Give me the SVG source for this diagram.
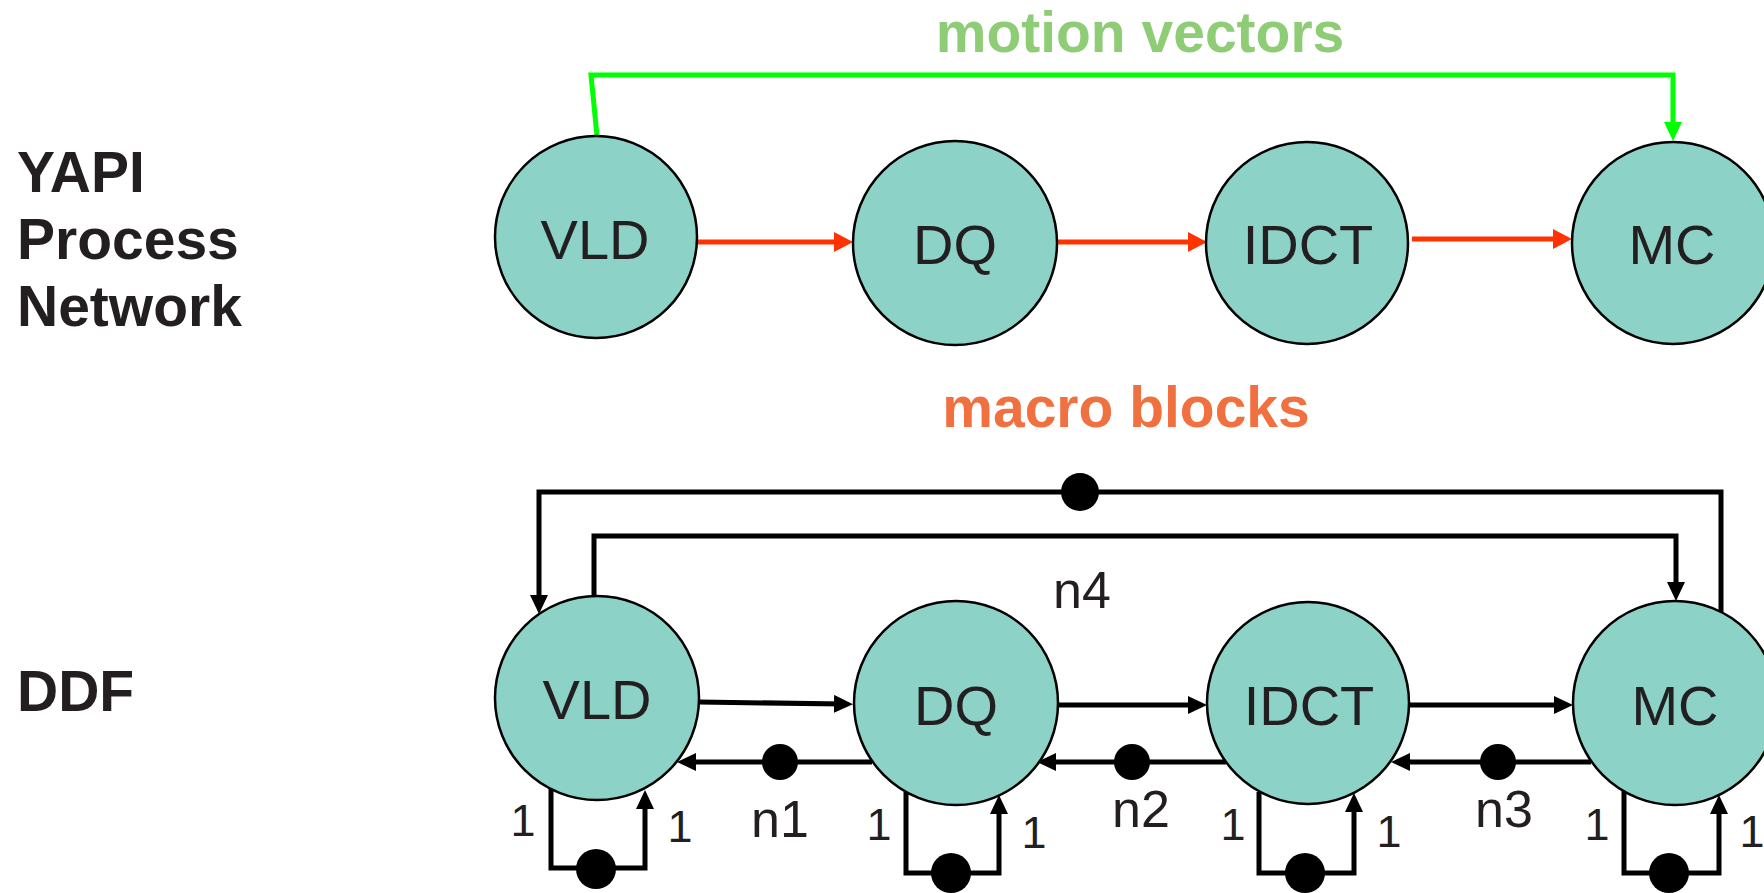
<svg xmlns="http://www.w3.org/2000/svg" width="1764" height="893" viewBox="0 0 1764 893">
  <style>
    .node { fill: #8dd2c6; stroke: #000; stroke-width: 2.5; }
    .nlabel { font-family: "Liberation Sans", Arial, sans-serif; font-size: 56px; fill: #231f20; text-anchor: middle; }
    .title { font-family: "Liberation Sans", Arial, sans-serif; font-size: 57px; font-weight: bold; fill: #231f20; }
    .edge { fill: none; stroke: #000; stroke-width: 5; stroke-linejoin: miter; }
    .red { fill: none; stroke: #ff3300; stroke-width: 5; }
    .green { fill: none; stroke: #00ff00; stroke-width: 5; stroke-linejoin: miter; }
    .token { fill: #000; }
    .rate { font-family: "Liberation Sans", Arial, sans-serif; font-size: 45px; fill: #231f20; text-anchor: middle; }
    .chan { font-family: "Liberation Sans", Arial, sans-serif; font-size: 52px; fill: #231f20; text-anchor: middle; }
  </style>
  <defs>
    <marker id="ah-black" markerUnits="userSpaceOnUse" markerWidth="19" markerHeight="18" refX="9" refY="9" orient="auto">
      <path d="M0,0 L19,9 L0,18 z" fill="#000"/>
    </marker>
    <marker id="ah-red" markerUnits="userSpaceOnUse" markerWidth="19" markerHeight="20" refX="9" refY="10" orient="auto">
      <path d="M0,0 L19,10 L0,20 z" fill="#ff3300"/>
    </marker>
    <marker id="ah-green" markerUnits="userSpaceOnUse" markerWidth="19" markerHeight="18" refX="9" refY="9" orient="auto">
      <path d="M0,0 L19,9 L0,18 z" fill="#00ff00"/>
    </marker>
  </defs>

  <rect width="1764" height="893" fill="#fff"/>

  <!-- row titles -->
  <g id="titles">
    <text class="title" x="17" y="192">YAPI</text>
    <text class="title" x="17" y="259">Process</text>
    <text class="title" x="17" y="326">Network</text>
    <text class="title" x="17" y="711">DDF</text>
  </g>

  <!-- channel captions -->
  <text id="motion-vectors" x="1140" y="52" font-family="Liberation Sans, Arial, sans-serif" font-size="57" font-weight="bold" fill="#8fcc76" text-anchor="middle">motion vectors</text>
  <text id="macro-blocks" x="1126" y="427" font-family="Liberation Sans, Arial, sans-serif" font-size="57" font-weight="bold" fill="#f0703f" text-anchor="middle">macro blocks</text>

  <!-- connectors -->
  <g id="connectors">
    <!-- process network -->
    <path class="green" d="M597,136 L591,75 L1673,75 L1673,131" marker-end="url(#ah-green)"/>
    <path class="red" d="M694,242 L843,242" marker-end="url(#ah-red)"/>
    <path class="red" d="M1056,242 L1197,242" marker-end="url(#ah-red)"/>
    <path class="red" d="M1412,239 L1562,239" marker-end="url(#ah-red)"/>

    <!-- dataflow: feedback loops over the top -->
    <path class="edge" d="M1721,613 L1721,492 L539,492 L539,604" marker-end="url(#ah-black)"/>
    <circle class="token" cx="1080" cy="492" r="19"/>
    <path class="edge" d="M594,596 L594,536 L1676,536 L1676,591" marker-end="url(#ah-black)"/>

    <!-- dataflow: forward channels -->
    <path class="edge" d="M699,702 L843,704" marker-end="url(#ah-black)"/>
    <path class="edge" d="M1058,705 L1197,705" marker-end="url(#ah-black)"/>
    <path class="edge" d="M1409,705 L1563,705" marker-end="url(#ah-black)"/>

    <!-- dataflow: backward channels with tokens -->
    <path class="edge" d="M872,762 L687,762" marker-end="url(#ah-black)"/>
    <circle class="token" cx="780" cy="762" r="18"/>
    <path class="edge" d="M1226,762 L1047,762" marker-end="url(#ah-black)"/>
    <circle class="token" cx="1132" cy="762" r="18"/>
    <path class="edge" d="M1591,762 L1401,762" marker-end="url(#ah-black)"/>
    <circle class="token" cx="1498" cy="762" r="18"/>

    <!-- dataflow: self loops -->
    <path class="edge" d="M551,789 L551,868 L645,868 L645,800" marker-end="url(#ah-black)"/>
    <circle class="token" cx="596" cy="869" r="20"/>
    <path class="edge" d="M906,792 L906,873 L999,873 L999,805" marker-end="url(#ah-black)"/>
    <circle class="token" cx="951" cy="873" r="20"/>
    <path class="edge" d="M1259,792 L1259,873 L1354,873 L1354,803" marker-end="url(#ah-black)"/>
    <circle class="token" cx="1305" cy="873" r="20"/>
    <path class="edge" d="M1624,791 L1624,873 L1719,873 L1719,805" marker-end="url(#ah-black)"/>
    <circle class="token" cx="1669" cy="873" r="20"/>

    <!-- rates and channel names -->
    <text class="rate" x="523" y="836">1</text>
    <text class="rate" x="680" y="842">1</text>
    <text class="rate" x="879" y="840">1</text>
    <text class="rate" x="1034" y="848">1</text>
    <text class="rate" x="1233" y="840">1</text>
    <text class="rate" x="1389" y="847">1</text>
    <text class="rate" x="1597" y="840">1</text>
    <text class="rate" x="1752" y="847">1</text>
    <text class="chan" x="780" y="837">n1</text>
    <text class="chan" x="1141" y="827">n2</text>
    <text class="chan" x="1504" y="827">n3</text>
    <text class="chan" x="1082" y="608">n4</text>
  </g>

  <!-- process network nodes -->
  <g id="pn-vld"><circle class="node" cx="596" cy="237" r="101"/><text class="nlabel" x="595" y="259">VLD</text></g>
  <g id="pn-dq"><circle class="node" cx="955" cy="243" r="102"/><text class="nlabel" x="955" y="264">DQ</text></g>
  <g id="pn-idct"><circle class="node" cx="1307" cy="243" r="101"/><text class="nlabel" x="1308" y="264">IDCT</text></g>
  <g id="pn-mc"><circle class="node" cx="1673" cy="243" r="101"/><text class="nlabel" x="1672" y="264">MC</text></g>

  <!-- dataflow nodes -->
  <g id="ddf-vld"><circle class="node" cx="597" cy="698" r="102"/><text class="nlabel" x="597" y="719">VLD</text></g>
  <g id="ddf-dq"><circle class="node" cx="956" cy="703" r="102"/><text class="nlabel" x="956" y="725">DQ</text></g>
  <g id="ddf-idct"><circle class="node" cx="1308" cy="703" r="101"/><text class="nlabel" x="1309" y="725">IDCT</text></g>
  <g id="ddf-mc"><circle class="node" cx="1675" cy="703" r="102"/><text class="nlabel" x="1675" y="725">MC</text></g>
</svg>
